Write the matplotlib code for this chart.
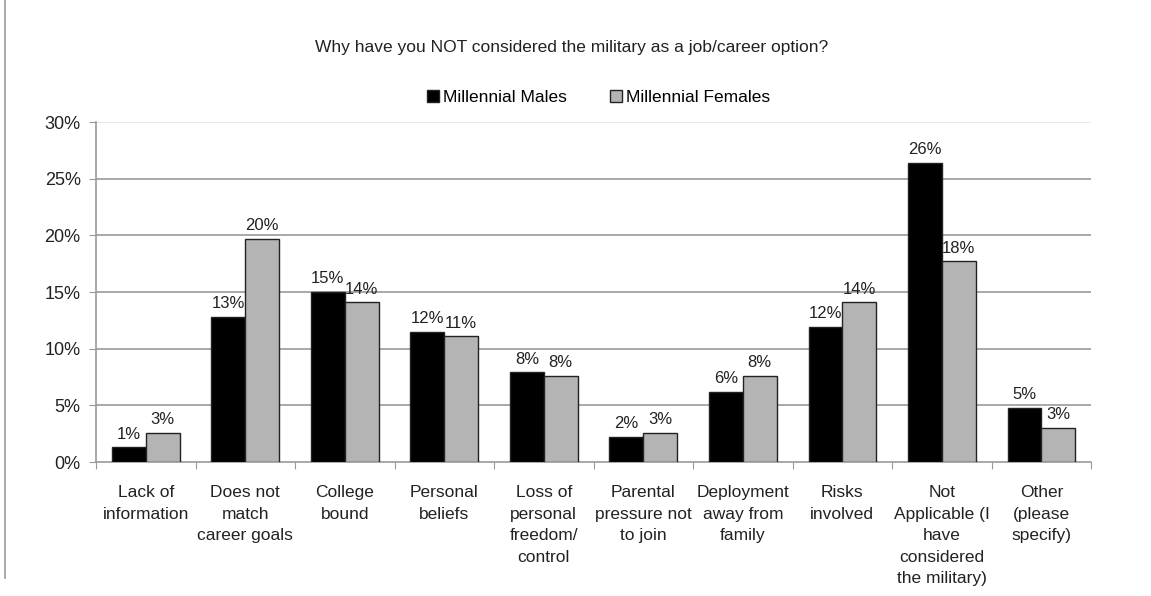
import numpy as np
import matplotlib.pyplot as plt
from matplotlib.lines import Line2D

plt.rcParams['font.family'] = ['Liberation Sans', 'DejaVu Sans']

categories = ['Lack of\ninformation', 'Does not\nmatch\ncareer goals', 'College\nbound',
              'Personal\nbeliefs', 'Loss of\npersonal\nfreedom/\ncontrol',
              'Parental\npressure not\nto join', 'Deployment\naway from\nfamily',
              'Risks\ninvolved', 'Not\nApplicable (I\nhave\nconsidered\nthe military)',
              'Other\n(please\nspecify)']
males = [1.3, 12.8, 15.0, 11.5, 7.9, 2.2, 6.2, 11.9, 26.4, 4.8]
females = [2.55, 19.7, 14.1, 11.1, 7.6, 2.55, 7.6, 14.1, 17.7, 3.0]
series_names = ['Millennial Males', 'Millennial Females']
yticks = [0, 5, 10, 15, 20, 25, 30]

fig = plt.figure(figsize=(11.51, 5.96), dpi=100)
ax = fig.add_axes([0.0834, 0.2248, 0.8646, 0.5705])

x = np.arange(len(categories))
w = 0.34
b1 = ax.bar(x - w / 2, males, w, color='black', edgecolor='#222222', linewidth=1.0,
            label=series_names[0], zorder=3)
b2 = ax.bar(x + w / 2, females, w, color='#b4b4b4', edgecolor='#222222', linewidth=1.0,
            label=series_names[1], zorder=3)

for bars in (b1, b2):
    for rect in bars:
        v = rect.get_height()
        ax.text(rect.get_x() + rect.get_width() / 2, v + 0.5, f'{v:.0f}%',
                ha='center', va='bottom', fontsize=12, color='#222222')

ax.set_xlim(-0.5, len(categories) - 0.5)
ax.set_ylim(0, 30)
ax.set_yticks(yticks)
ax.set_yticklabels([f'{t}%' for t in yticks], fontsize=13, color='#222222')
for t in yticks[1:]:
    ax.axhline(t, color='#9a9a9a' if t < 30 else '#e4e4e4', linewidth=1.2, zorder=1)
ax.tick_params(axis='y', length=5, color='#9a9a9a', pad=6)

# ticks at category boundaries, labels drawn as text under each group
ax.set_xticks(np.arange(-0.5, len(categories)))
ax.set_xticklabels([])
ax.tick_params(axis='x', length=5, color='#9a9a9a', direction='out')
for xi, name in zip(x, categories):
    ax.annotate(name, xy=(xi, 0), xycoords=('data', 'axes fraction'),
                xytext=(0, -16.5), textcoords='offset points',
                ha='center', va='top', fontsize=12.5, color='#222222',
                linespacing=1.55)

for side in ['top', 'right']:
    ax.spines[side].set_visible(False)
ax.spines['left'].set_color('#9a9a9a')
ax.spines['bottom'].set_color('#9a9a9a')
ax.spines['left'].set_linewidth(1.2)
ax.spines['bottom'].set_linewidth(1.2)

fig.text(0.497, 0.921, 'Why have you NOT considered the military as a job/career option?',
         ha='center', va='center', fontsize=12.5, color='#222222')
fig.legend(handles=[b1, b2], loc='center', bbox_to_anchor=(0.52, 0.836), ncol=2,
           frameon=False, fontsize=12.5, handlelength=0.7, handleheight=0.7,
           handletextpad=0.2, columnspacing=2.5)

# page border on the left
fig.add_artist(Line2D([0.0045, 0.0045], [0.03, 1.0], color='#9a9a9a', linewidth=1.2))

fig.savefig('out.png', dpi=100)
